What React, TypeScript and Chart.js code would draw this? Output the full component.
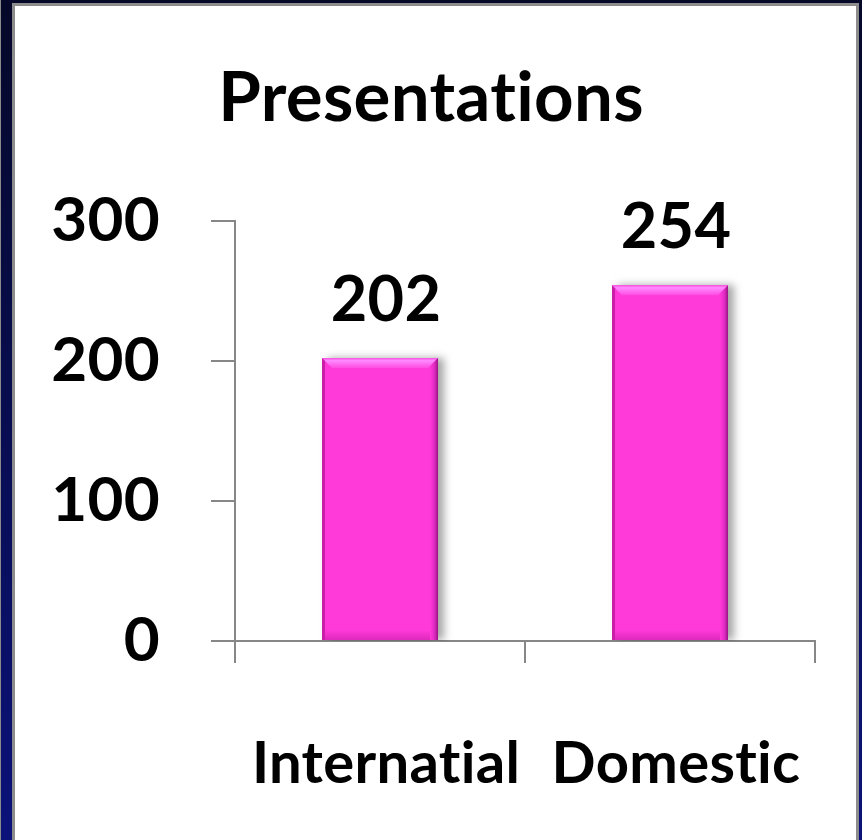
import React, { useEffect, useRef } from "react";
import { Chart, registerables } from "chart.js";

Chart.register(...registerables);

const categories = ["Internatial", "Domestic"];
const presentations = [202, 254];
const yTicks = [0, 100, 200, 300];
const chartTitle = "Presentations";

const FONT = "Lato, 'Open Sans', sans-serif";
const AXIS_GREY = "#878787";
const BAR_PINK = "#FF3AD8";

// Keep letters separate (no "ti" ligatures) for all canvas text.
const textSetupPlugin = {
  id: "textSetup",
  beforeDraw(chart: any) {
    const ctx = chart.ctx as any;
    ctx.letterSpacing = "0.3px";
  },
};

// Bevelled look on top of each bar: light top band, dark side edges.
const bevelPlugin = {
  id: "bevel",
  beforeDatasetDraw(chart: any) {
    const ctx = chart.ctx;
    ctx.save();
    ctx.shadowColor = "rgba(0,0,0,0.35)";
    ctx.shadowBlur = 8;
    ctx.shadowOffsetX = 6;
    ctx.shadowOffsetY = 0;
  },
  afterDatasetDraw(chart: any) {
    const ctx = chart.ctx;
    ctx.restore();
    const meta = chart.getDatasetMeta(0);
    meta.data.forEach((bar: any) => {
      const { x, y, base, width } = bar.getProps(["x", "y", "base", "width"], true);
      const l = x - width / 2;
      const r = x + width / 2;
      const b = 10;
      ctx.save();
      // top highlight
      const g = ctx.createLinearGradient(0, y, 0, y + b);
      g.addColorStop(0, "#F452DE");
      g.addColorStop(0.25, "#FF8AFF");
      g.addColorStop(1, "#FF4CE2");
      ctx.fillStyle = g;
      ctx.beginPath();
      ctx.moveTo(l, y);
      ctx.lineTo(r, y);
      ctx.lineTo(r - b, y + b);
      ctx.lineTo(l + b, y + b);
      ctx.closePath();
      ctx.fill();
      // left edge
      ctx.fillStyle = "#C81EA8";
      ctx.beginPath();
      ctx.moveTo(l, y);
      ctx.lineTo(l + 3, y + 3);
      ctx.lineTo(l + 3, base);
      ctx.lineTo(l, base);
      ctx.closePath();
      ctx.fill();
      // right edge
      const gr = ctx.createLinearGradient(r - 8, 0, r, 0);
      gr.addColorStop(0, "rgba(235,40,200,0)");
      gr.addColorStop(0.6, "#D92ABE");
      gr.addColorStop(1, "#9A1282");
      ctx.fillStyle = gr;
      ctx.beginPath();
      ctx.moveTo(r, y);
      ctx.lineTo(r, base);
      ctx.lineTo(r - 8, base);
      ctx.lineTo(r - 8, y + 8);
      ctx.closePath();
      ctx.fill();
      // bottom shade
      const gb = ctx.createLinearGradient(0, base - 10, 0, base);
      gb.addColorStop(0, "rgba(200,30,170,0)");
      gb.addColorStop(1, "rgba(200,30,170,0.6)");
      ctx.fillStyle = gb;
      ctx.fillRect(l + 3, base - 10, width - 11, 10);
      ctx.restore();
    });
  },
};

// Value printed above each bar.
const valueLabelPlugin = {
  id: "valueLabels",
  afterDatasetsDraw(chart: any) {
    const ctx = chart.ctx;
    const meta = chart.getDatasetMeta(0);
    ctx.save();
    ctx.font = `bold 63px ${FONT}`;
    ctx.fillStyle = "#000";
    ctx.textAlign = "center";
    ctx.textBaseline = "alphabetic";
    meta.data.forEach((bar: any, i: number) => {
      const { x, y } = bar.getProps(["x", "y"], true);
      ctx.fillText(String(presentations[i]), x + 6, y - 37);
    });
    ctx.restore();
  },
};

export default function App() {
  const canvasRef = useRef<HTMLCanvasElement | null>(null);

  useEffect(() => {
    if (!canvasRef.current) return;
    const chart = new Chart(canvasRef.current, {
      type: "bar",
      data: {
        labels: categories,
        datasets: [
          {
            data: presentations,
            backgroundColor: BAR_PINK,
            borderWidth: 0,
            barPercentage: 0.8,
            categoryPercentage: 0.5,
          },
        ],
      },
      options: {
        responsive: false,
        animation: false,
        devicePixelRatio: 1,
        layout: { padding: { top: 20, right: 47, left: 47, bottom: 0 } },
        plugins: {
          legend: { display: false },
          tooltip: { enabled: false },
          title: {
            display: true,
            text: chartTitle,
            color: "#000",
            font: { family: FONT, size: 69, weight: "bold" },
            padding: { top: 37, bottom: 81 },
          },
        },
        scales: {
          x: {
            grid: {
              display: true,
              offset: true,
              drawOnChartArea: false,
              drawTicks: true,
              tickLength: 22,
              color: AXIS_GREY,
              lineWidth: 2,
            },
            border: { display: true, color: AXIS_GREY, width: 2 },
            ticks: {
              color: "#000",
              font: { family: FONT, size: 58, weight: "bold" },
              padding: 66,
              labelOffset: 6,
              maxRotation: 0,
            },
            afterFit(scale: any) {
              scale.height = 199;
              scale.paddingLeft = 0;
              scale.paddingRight = 0;
            },
          },
          y: {
            min: 0,
            max: 300,
            afterBuildTicks(scale: any) {
              scale.ticks = yTicks.map((v) => ({ value: v }));
            },
            grid: {
              display: true,
              drawOnChartArea: false,
              drawTicks: true,
              tickLength: 24,
              color: AXIS_GREY,
              lineWidth: 2,
            },
            border: { display: true, color: AXIS_GREY, width: 2 },
            ticks: {
              color: "#000",
              font: { family: FONT, size: 62, weight: "bold" },
              padding: 51,
            },
            afterFit(scale: any) {
              scale.width = 188;
              scale.paddingTop = 0;
              scale.paddingBottom = 0;
            },
          },
        },
      },
      plugins: [textSetupPlugin, bevelPlugin, valueLabelPlugin],
    });
    return () => chart.destroy();
  }, []);

  return (
    <div
      style={{
        position: "fixed",
        left: 0,
        top: 0,
        width: 862,
        height: 840,
        overflow: "hidden",
        background: "linear-gradient(#050828, #0b127a)",
      }}
    >
      <div
        style={{
          position: "absolute",
          left: 0,
          top: 0,
          width: 1,
          height: 840,
          background: "#8a8a8a",
        }}
      />
      <div
        style={{
          position: "absolute",
          left: 12,
          top: 3,
          width: 847,
          height: 900,
          boxSizing: "border-box",
          border: "3px solid #8c8c8c",
          background: "#fff",
        }}
      />
      <canvas
        ref={canvasRef}
        width={862}
        height={840}
        style={{ position: "absolute", left: 0, top: 0, width: 862, height: 840 }}
      />
    </div>
  );
}
